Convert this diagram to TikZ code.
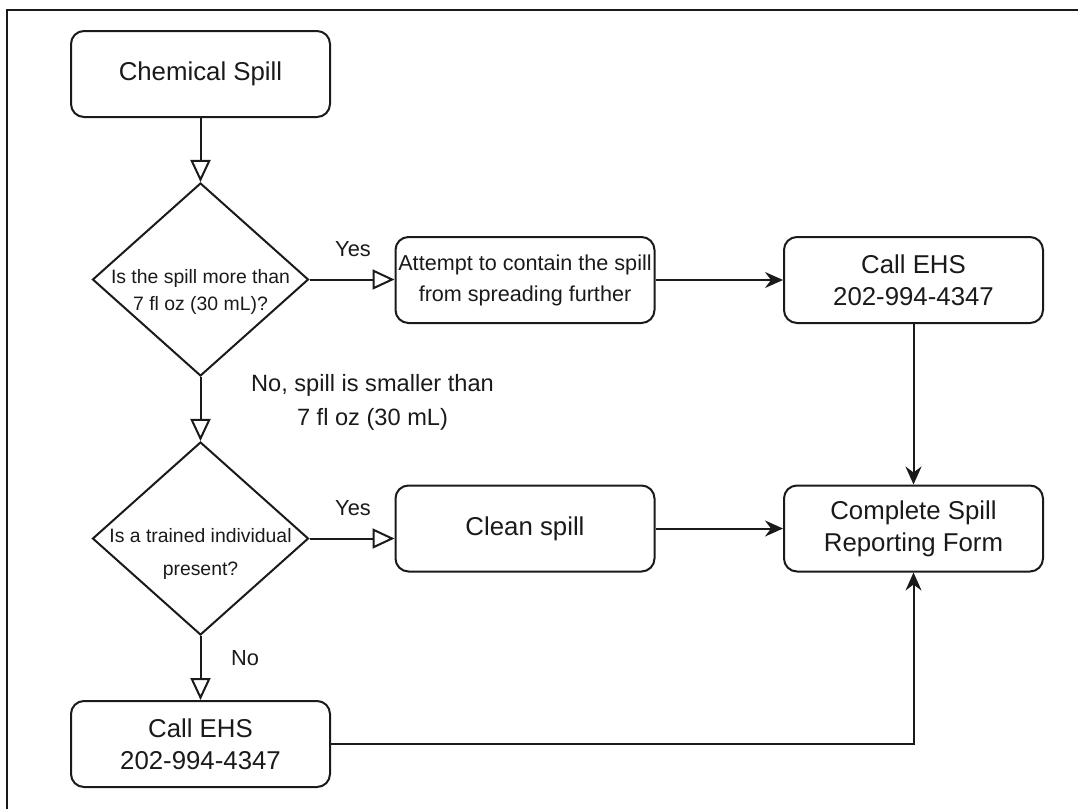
\documentclass[tikz,border=0pt]{standalone}
\usepackage{fontspec}
\setmainfont{Liberation Sans}
\usetikzlibrary{arrows.meta,shapes.geometric}
\definecolor{ink}{HTML}{1A1A1A}
\begin{document}
\begin{tikzpicture}[x=1pt,y=-1pt,
  box/.style={draw=ink, line width=2pt, rounded corners=13pt, minimum width=259pt, minimum height=86pt, inner sep=0pt, align=center, text=ink},
  big/.style={font=\fontsize{25.8}{32}\selectfont},
  decision/.style={draw=ink, line width=2pt, diamond, minimum width=216pt, minimum height=193pt, inner sep=0pt},
  dtext/.style={inner sep=0pt, align=center, text=ink, font=\fontsize{19.4}{27}\selectfont},
  dtextb/.style={inner sep=0pt, align=center, text=ink, font=\fontsize{19.4}{33}\selectfont},
  lbl/.style={inner sep=0pt, text=ink, font=\fontsize{21.8}{26}\selectfont},
  lblb/.style={inner sep=0pt, align=center, text=ink, font=\fontsize{23.6}{34}\selectfont},
  openarr/.style={draw=ink, line width=2pt, -{Triangle[open,length=22pt,width=20pt]}},
  fillarr/.style={draw=ink, line width=2pt, -{Stealth[length=18pt,width=16pt,inset=6pt]}}
]
\useasboundingbox (0,0) rectangle (1078,809);
\draw[draw=ink, line width=2pt] (7,809) -- (7,10) -- (1078,10);

\node[box,big] (cs) at (200.5,74) {Chemical Spill};
\node[decision] (d1) at (200.5,279.5) {};
\node[dtext] (d1t) at (200.5,291.5) {Is the spill more than\\7 fl oz (30 mL)?};
\node[box, font=\fontsize{21.6}{31}\selectfont] (att) at (525,280) {Attempt to contain the spill\\from spreading further};
\node[box,big] (eh1) at (913.5,280) {Call EHS\\202-994-4347};
\node[decision] (d2) at (200.5,538.5) {};
\node[dtextb] (d2t) at (200.5,553.5) {Is a trained individual\\present?};
\node[box,big] (cl) at (525,528.5) {Clean spill};
\node[box,big] (cmp) at (913.5,528.5) {Complete Spill\\Reporting Form};
\node[box,big] (eh2) at (200.5,744) {Call EHS\\202-994-4347};

\node[lbl] (y1) at (353,249) {Yes};
\node[lblb] (nol) at (372.5,402) {No, spill is smaller than\\7 fl oz (30 mL)};
\node[lbl] (y2) at (353,508) {Yes};
\node[lbl] (no) at (245,658) {No};

\draw[openarr] (cs) -- (d1);
\draw[openarr] (d1.east) -- (d1.east -| att.west);
\draw[openarr] (d1) -- (d2);
\draw[openarr] (d2.east) -- (d2.east -| cl.west);
\draw[openarr] (d2) -- (eh2);
\draw[fillarr] (att) -- (eh1);
\draw[fillarr] (eh1) -- (cmp);
\draw[fillarr] (cl) -- (cmp);
\draw[fillarr] (eh2.east) -| (cmp.south);
\end{tikzpicture}
\end{document}
